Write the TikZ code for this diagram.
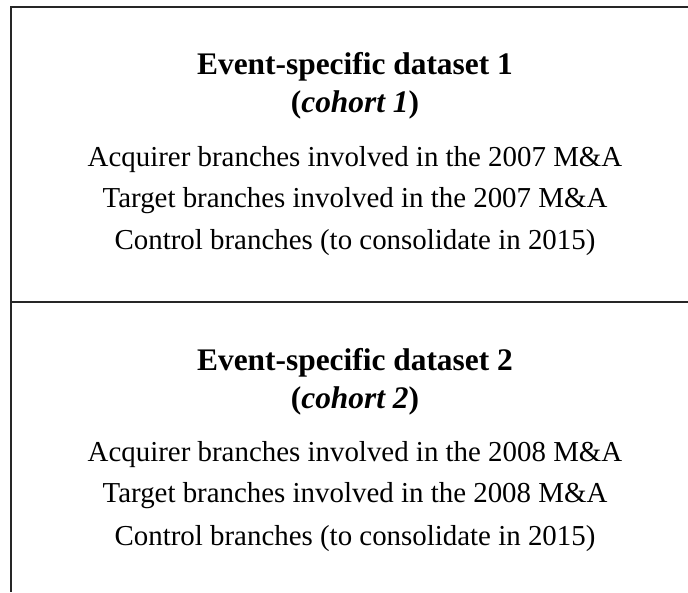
\documentclass[tikz,border=0pt]{standalone}
\usepackage{fontspec}
\setmainfont{Liberation Serif}
\usepackage{tikz}

\begin{document}
\begin{tikzpicture}[x=1pt,y=1pt]
\tikzstyle{head}=[anchor=base,inner sep=0pt,font=\fontsize{31.4}{38}\selectfont\bfseries]
\tikzstyle{entry}=[anchor=base,inner sep=0pt,font=\fontsize{28.9}{35}\selectfont]
\tikzstyle{frame}=[line width=1.3pt,black!85]
\useasboundingbox (0,0) rectangle (688,592);
% box outline (right and bottom edges run off the page)
\coordinate (tl) at (11,585);
\coordinate (tr) at (688,585);
\coordinate (ml) at (11,290);
\coordinate (mr) at (688,290);
\coordinate (bl) at (11,0);
\draw[frame] (tr) -- (tl) -- (bl);
\draw[frame] (ml) -- (mr);
% first cohort
\node [head] (title1) at (355,517) {Event-specific dataset 1};
\node [head] (cohort1) at (355,479) {(\textit{cohort 1})};
\node [entry] (acq1) at (355,425) {Acquirer branches involved in the 2007 M\&A};
\node [entry] (tgt1) at (355,384) {Target branches involved in the 2007 M\&A};
\node [entry] (ctrl1) at (355,342) {Control branches (to consolidate in 2015)};
% second cohort
\node [head] (title2) at (355,221) {Event-specific dataset 2};
\node [head] (cohort2) at (355,183) {(\textit{cohort 2})};
\node [entry] (acq2) at (355,130) {Acquirer branches involved in the 2008 M\&A};
\node [entry] (tgt2) at (355,89) {Target branches involved in the 2008 M\&A};
\node [entry] (ctrl2) at (355,47) {Control branches (to consolidate in 2015)};
\end{tikzpicture}
\end{document}
